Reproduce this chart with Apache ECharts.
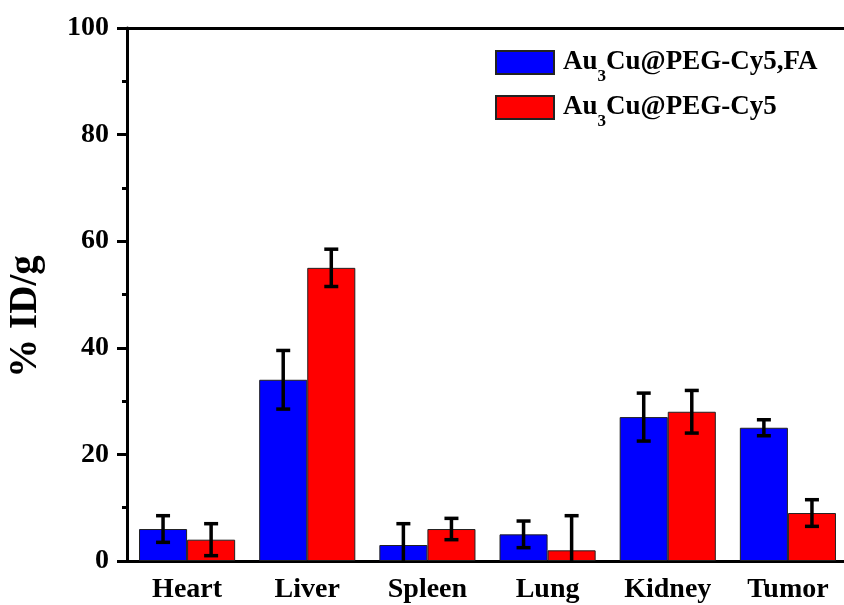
<!DOCTYPE html>
<html>
<head>
<meta charset="utf-8">
<script src="https://cdn.jsdelivr.net/npm/echarts@6/dist/echarts.min.js"></script>
<style>
html,body{margin:0;padding:0;background:#fff;}
#chart{width:844px;height:605px;}
</style>
</head>
<body>
<div id="chart"></div>
<script>
const categories = ['Heart', 'Liver', 'Spleen', 'Lung', 'Kidney', 'Tumor'];
const seriesNames = ['Au3Cu@PEG-Cy5,FA', 'Au3Cu@PEG-Cy5'];
const blueValues = [6, 34, 3, 5, 27, 25];
const blueErrors = [2.5, 5.5, 4, 2.5, 4.5, 1.5];
const redValues = [4, 55, 6, 2, 28, 9];
const redErrors = [3, 3.5, 2, 6.5, 4, 2.5];
const yTicks = [0, 20, 40, 60, 80, 100];

const FONT = '"Liberation Serif", "Times New Roman", serif';
const chart = echarts.init(document.getElementById('chart'), null, {renderer: 'canvas'});

function errSeries(values, errors, offsetFrac) {
  return {
    type: 'custom',
    name: 'err' + offsetFrac,
    clip: true,
    z: 10,
    silent: true,
    data: values.map((v, i) => [i, v, errors[i]]),
    encode: {x: 0, y: 1},
    renderItem: function (params, api) {
      const i = api.value(0), v = api.value(1), e = api.value(2);
      const band = api.size([1, 0])[0];
      const c = api.coord([i, v]);
      const x = c[0] + offsetFrac * band;
      const top = api.coord([i, v + e])[1];
      const bot = api.coord([i, v - e])[1];
      const cap = 7;
      const style = {stroke: '#000', lineWidth: 3.5};
      return {
        type: 'group',
        children: [
          {type: 'line', shape: {x1: x, y1: top, x2: x, y2: bot}, style: style},
          {type: 'line', shape: {x1: x - cap, y1: top, x2: x + cap, y2: top}, style: style},
          {type: 'line', shape: {x1: x - cap, y1: bot, x2: x + cap, y2: bot}, style: style}
        ]
      };
    }
  };
}

function legendFmt(name) {
  return '{b|Au}{s|3}{b|' + name.slice(3) + '}';
}

chart.setOption({
  animation: false,
  backgroundColor: '#fff',
  grid: {
    left: 127, top: 28, right: -4, bottom: 44,
    show: false,
    containLabel: false,
    outerBoundsMode: 'none'
  },
  legend: {
    left: 490, top: 44,
    orient: 'vertical',
    icon: 'rect',
    itemWidth: 58, itemHeight: 23, itemGap: 9,
    data: seriesNames,
    formatter: legendFmt,
    textStyle: {
      fontFamily: FONT, fontWeight: 'bold', fontSize: 27, color: '#000',
      padding: [0, 0, 0, 4],
      rich: {
        b: {fontFamily: FONT, fontWeight: 'bold', fontSize: 27, color: '#000'},
        s: {fontFamily: FONT, fontWeight: 'bold', fontSize: 17, color: '#000', padding: [28, 0, 0, 0]}
      }
    }
  },
  xAxis: [{
    type: 'category',
    data: categories,
    axisLine: {lineStyle: {color: '#000', width: 3}},
    axisTick: {alignWithLabel: true, length: 10, lineStyle: {color: '#000', width: 3}},
    axisLabel: {fontFamily: FONT, fontWeight: 'bold', fontSize: 28, color: '#000', margin: 15},
    splitLine: {show: false}
  }, {
    type: 'category',
    position: 'top',
    data: categories,
    axisLine: {show: true, lineStyle: {color: '#000', width: 3}},
    axisTick: {show: false},
    axisLabel: {show: false},
    splitLine: {show: false}
  }],
  yAxis: {
    type: 'value',
    min: yTicks[0], max: yTicks[yTicks.length - 1], interval: 20,
    name: '% ID/g',
    nameLocation: 'middle',
    nameGap: 82,
    nameRotate: 90,
    nameTextStyle: {fontFamily: FONT, fontWeight: 'bold', fontSize: 39, color: '#000', padding: [0, 44, 0, 0]},
    axisLine: {show: true, lineStyle: {color: '#000', width: 3}},
    axisTick: {show: true, length: 10, lineStyle: {color: '#000', width: 3}},
    minorTick: {show: true, splitNumber: 2, length: 5, lineStyle: {color: '#000', width: 3}},
    axisLabel: {fontFamily: FONT, fontWeight: 'bold', fontSize: 28, color: '#000', margin: 18},
    splitLine: {show: false}
  },
  series: [
    {
      name: seriesNames[0], type: 'bar', data: blueValues,
      barGap: '0%', barCategoryGap: '20%',
      itemStyle: {color: '#0000FF', borderColor: '#222', borderWidth: 1}
    },
    {
      name: seriesNames[1], type: 'bar', data: redValues,
      barGap: '0%', barCategoryGap: '20%',
      itemStyle: {color: '#FF0000', borderColor: '#222', borderWidth: 1}
    },
    errSeries(blueValues, blueErrors, -0.2),
    errSeries(redValues, redErrors, 0.2)
  ]
});
</script>
</body>
</html>
